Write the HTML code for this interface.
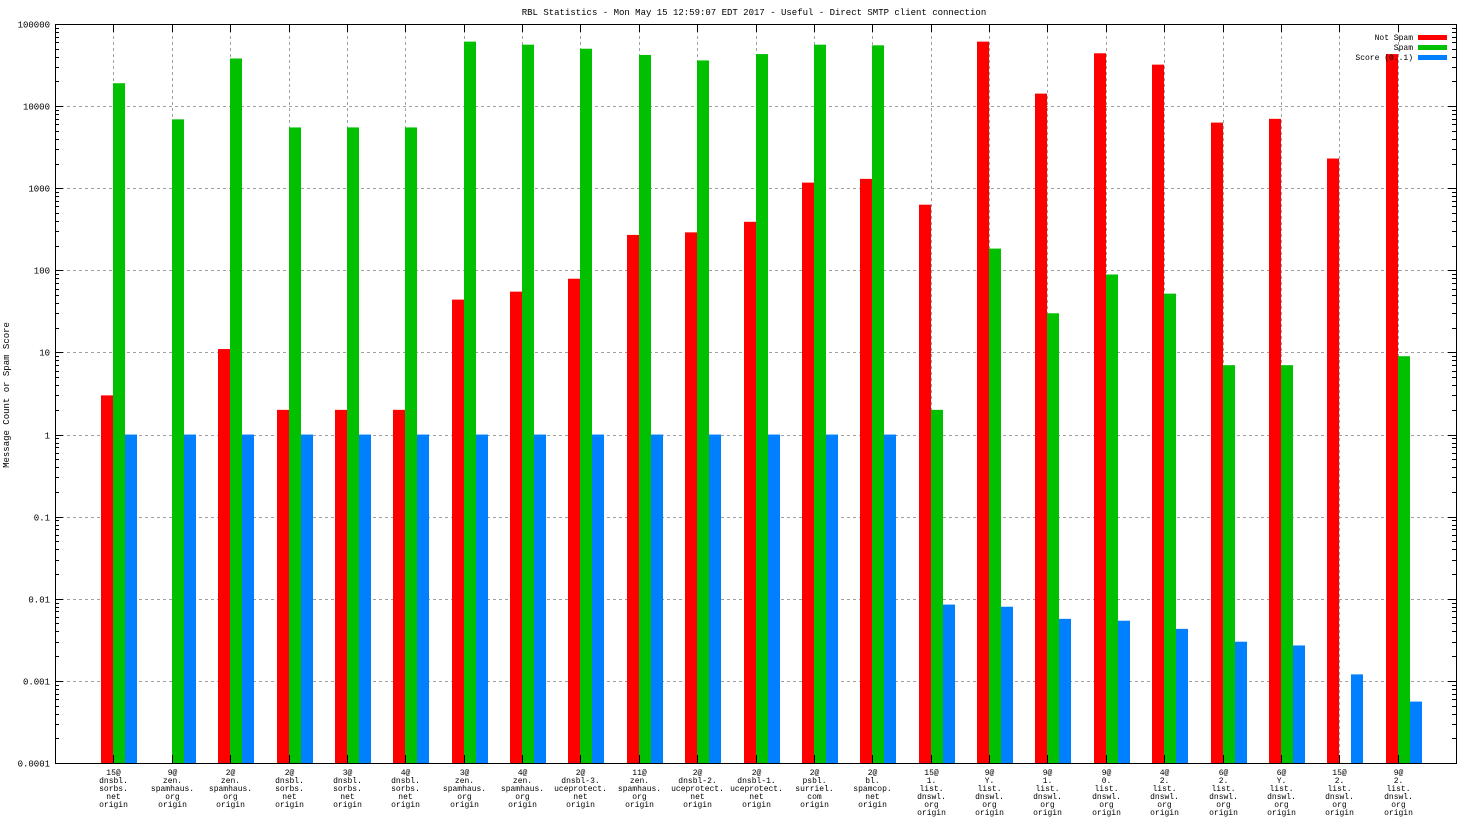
<!DOCTYPE html>
<html><head><meta charset="utf-8"><style>
html,body{margin:0;padding:0;background:#fff;}
svg{display:block;font-family:"Liberation Mono","DejaVu Sans Mono",monospace;}
</style></head><body>
<svg id="chart" width="1472" height="828" viewBox="0 0 1472 828">
<text x="754" y="15" font-size="9" text-anchor="middle">RBL Statistics - Mon May 15 12:59:07 EDT 2017 - Useful - Direct SMTP client connection</text>
<text transform="translate(9,395) rotate(-90)" font-size="9" text-anchor="middle">Message Count or Spam Score</text>
<g id="grid"></g><g id="bars"></g><g id="axes"></g><g id="legend"></g>
</svg>
<script>
const categories=[["15@","dnsbl.","sorbs.","net","origin"],["9@","zen.","spamhaus.","org","origin"],["2@","zen.","spamhaus.","org","origin"],["2@","dnsbl.","sorbs.","net","origin"],["3@","dnsbl.","sorbs.","net","origin"],["4@","dnsbl.","sorbs.","net","origin"],["3@","zen.","spamhaus.","org","origin"],["4@","zen.","spamhaus.","org","origin"],["2@","dnsbl-3.","uceprotect.","net","origin"],["11@","zen.","spamhaus.","org","origin"],["2@","dnsbl-2.","uceprotect.","net","origin"],["2@","dnsbl-1.","uceprotect.","net","origin"],["2@","psbl.","surriel.","com","origin"],["2@","bl.","spamcop.","net","origin"],["15@","1.","list.","dnswl.","org","origin"],["9@","Y.","list.","dnswl.","org","origin"],["9@","1.","list.","dnswl.","org","origin"],["9@","0.","list.","dnswl.","org","origin"],["4@","2.","list.","dnswl.","org","origin"],["6@","2.","list.","dnswl.","org","origin"],["6@","Y.","list.","dnswl.","org","origin"],["15@","2.","list.","dnswl.","org","origin"],["9@","2.","list.","dnswl.","org","origin"]];
const notSpam=[3,null,11,2,2,2,44,55,79,270,290,390,1170,1300,630,61000,14200,44000,32000,6300,7000,2300,43000];
const spam=[19000,6900,38000,5500,5500,5500,61000,56000,50000,42000,36000,43000,56000,55000,2,184,30,89,52,7,7,null,9];
const score=[1,1,1,1,1,1,1,1,1,1,1,1,1,1,0.0085,0.008,0.0057,0.0054,0.0043,0.003,0.0027,0.0012,0.00056];
const yTicks=["0.0001","0.001","0.01","0.1","1","10","100","1000","10000","100000"];
const seriesNames=["Not Spam","Spam","Score (0..1)"];
const colors=["#ff0000","#00c000","#0080ff"];

const L=55,R=1456,T=24,B=763,NS="http://www.w3.org/2000/svg";
const xs=i=>L+(i+1)*(R-L)/(categories.length+1);
const ys=v=>B-(Math.log10(v)+4)*(B-T)/9;
function mk(tag,attrs,parent){const e=document.createElementNS(NS,tag);for(const k in attrs)e.setAttribute(k,attrs[k]);parent.appendChild(e);return e;}
const grid=document.getElementById('grid'),bars=document.getElementById('bars'),axes=document.getElementById('axes'),legend=document.getElementById('legend');

yTicks.forEach((t,k)=>{const y=Math.round(ys(parseFloat(t)))+0.5;
 if(k>0&&k<yTicks.length-1){const g=mk('line',{x1:L,x2:R,y1:y,y2:y,stroke:'#a0a0a0','stroke-dasharray':'3,3'},grid);
 
 }
 const tk=mk('path',{d:`M${L} ${y}h8M${R} ${y}h-8`,stroke:'#000'},axes);
 
 
 const lb=mk('text',{x:L-5,y:y+3,'font-size':9,'text-anchor':'end'},axes);lb.textContent=t;
 
 
 if(k<yTicks.length-1){for(let m=2;m<=9;m++){const my=Math.round(ys(parseFloat(t)*m))+0.5;
  const mt=mk('path',{d:`M${L} ${my}h4M${R} ${my}h-4`,stroke:'#000'},axes);
  
  }}
});

categories.forEach((c,i)=>{const x=Math.round(xs(i))+0.5;
 const g=mk('line',{x1:x,x2:x,y1:T,y2:B,stroke:'#a0a0a0','stroke-dasharray':'3,3'},grid);
 
 
 const tk=mk('path',{d:`M${x} ${B}v-8M${x} ${T}v8`,stroke:'#000'},axes);
 
 
 const tx=mk('text',{x:x,y:B+12,'font-size':8,'text-anchor':'middle'},axes);
 
 
 c.forEach((line,j)=>{const ts=mk('tspan',{x:x,dy:j?8:0},tx);ts.textContent=line;});
 [notSpam,spam,score].forEach((s,k)=>{const v=s[i];if(v==null)return;
  const y=ys(v);const r=mk('rect',{x:Math.round(xs(i))-12+12*k,y:y,width:12,height:B-y,fill:colors[k]},bars);
  
  });
});

const frame=mk('rect',{x:L+0.5,y:T+0.5,width:R-L,height:B-T,fill:'none',stroke:'#000'},axes);



seriesNames.forEach((n,k)=>{const y=37+k*10;
 const t=mk('text',{x:1413,y:y+3,'font-size':8,'text-anchor':'end'},legend);t.textContent=n;
 
 
 const r=mk('rect',{x:1418,y:y-2,width:29,height:5,fill:colors[k]},legend);
 
 });
</script>
</body></html>
